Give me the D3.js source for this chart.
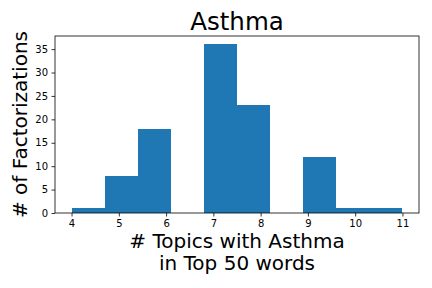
<!DOCTYPE html>
<html>
<head>
<meta charset="utf-8">
<script src="https://cdn.jsdelivr.net/npm/d3@7"></script>
<style>
  body { margin: 0; background: #fff; }
  text { font-family: "DejaVu Sans", sans-serif; }
</style>
</head>
<body>
<div id="chart"></div>
<script>
// histogram bins (edges) and counts
let binEdges = [4.0, 4.7, 5.4, 6.1, 6.8, 7.5, 8.2, 8.9, 9.6, 10.3, 11.0];
let counts = [1, 8, 18, 0, 36, 23, 0, 12, 1, 1];
let xTicks = [4, 5, 6, 7, 8, 9, 10, 11];
let yTicks = [0, 5, 10, 15, 20, 25, 30, 35];

let margin = {top: 36, right: 13, bottom: 75, left: 55},
    width = 432 - margin.left - margin.right,
    height = 288 - margin.top - margin.bottom;

let svg = d3.select("#chart")
    .append("svg")
    .attr("width", 432)
    .attr("height", 288)
    .append("g")
    .attr("transform", "translate(" + margin.left + "," + margin.top + ")");

let x = d3.scaleLinear().domain([3.65, 11.35]).range([0, width]);
let y = d3.scaleLinear().domain([0, 37.8]).range([height, 0]);

let bins = counts.map((c, i) => ({x0: binEdges[i], x1: binEdges[i + 1], n: c}));

svg.selectAll(".bar")
    .data(bins.filter(d => d.n > 0))
    .enter().append("rect")
    .attr("class", "bar")
    .attr("x", d => x(d.x0))
    .attr("width", d => x(d.x1) - x(d.x0))
    .attr("y", d => y(d.n))
    .attr("height", d => height - y(d.n))
    .attr("fill", "#1f77b4")
    .attr("shape-rendering", "crispEdges");

let xAxis = d3.axisBottom(x).tickValues(xTicks).tickSize(3.5).tickPadding(3.5).tickFormat(d3.format("d"));
let yAxis = d3.axisLeft(y).tickValues(yTicks).tickSize(3.5).tickPadding(3.5).tickFormat(d3.format("d"));

let gx = svg.append("g")
    .attr("transform", "translate(0," + height + ")")
    .call(xAxis);
let gy = svg.append("g").call(yAxis);

[gx, gy].forEach(g => {
    g.select(".domain").remove();
    g.selectAll("line").attr("stroke", "#000").attr("stroke-width", 0.8);
    g.selectAll("text").attr("font-size", "10px").attr("fill", "#000")
        .style("font-family", "DejaVu Sans, sans-serif");
});

// frame
svg.append("rect")
    .attr("width", width)
    .attr("height", height)
    .attr("fill", "none")
    .attr("stroke", "#000")
    .attr("stroke-width", 0.8);

// title
svg.append("text")
    .attr("x", width / 2)
    .attr("y", -6)
    .attr("text-anchor", "middle")
    .attr("font-size", "24.5px")
    .text("Asthma");

// x label
let xl = svg.append("text")
    .attr("text-anchor", "middle")
    .attr("font-size", "20px");
xl.append("tspan").attr("x", width / 2).attr("y", height + 35).text("# Topics with Asthma");
xl.append("tspan").attr("x", width / 2).attr("y", height + 57).text("in Top 50 words");

// y label
svg.append("text")
    .attr("transform", "rotate(-90)")
    .attr("x", -height / 2)
    .attr("y", -margin.left + 27)
    .attr("text-anchor", "middle")
    .attr("font-size", "20px")
    .text("# of Factorizations");
</script>
</body>
</html>
